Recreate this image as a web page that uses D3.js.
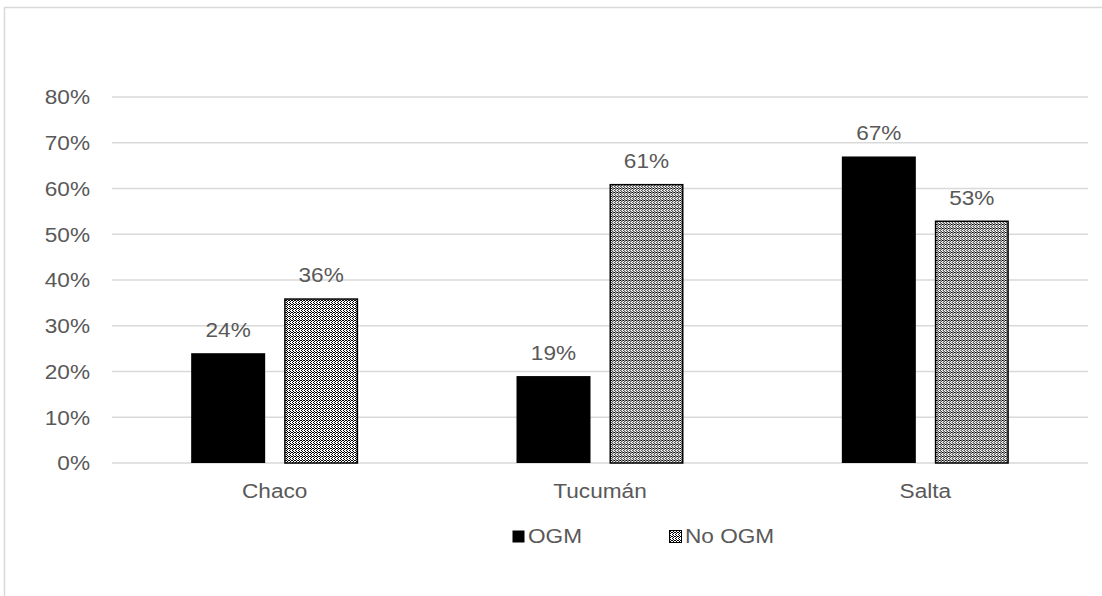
<!DOCTYPE html>
<html>
<head>
<meta charset="utf-8">
<script src="https://cdn.jsdelivr.net/npm/d3@7"></script>
<style>
  html, body { margin: 0; padding: 0; background: #fff; }
  svg { display: block; font-family: "Liberation Sans", Arial, sans-serif; }
</style>
</head>
<body>
<svg id="chart" width="1102" height="596"></svg>
<script>
// Regions and shares per seed type
const categories = ["Chaco", "Tucumán", "Salta"];
const seriesNames = ["OGM", "No OGM"];
const ogmValues = [24, 19, 67];
const noOgmValues = [36, 61, 53];
const tickValues = [0, 10, 20, 30, 40, 50, 60, 70, 80];

const svg = d3.select("#chart");
const W = 1102, H = 596;
const plot = { left: 112, right: 1088, top: 97, bottom: 463 };
const textColor = "#595959";
const gridColor = "#d9d9d9";
const fontSize = "19.5px";
const stretch = 1.16; // text is rendered slightly wide

// Outer chart frame (top and left edges visible)
svg.append("path")
  .attr("d", `M4.5,${H} L4.5,7.5 L${W},7.5`)
  .attr("fill", "none")
  .attr("stroke", gridColor)
  .attr("stroke-width", 1.5);

// Dotted fill for the "No OGM" series: columns of dots
const defs = svg.append("defs");
const pat = defs.append("pattern")
  .attr("id", "dots")
  .attr("patternUnits", "userSpaceOnUse")
  .attr("width", 3).attr("height", 4);
pat.append("rect").attr("width", 3).attr("height", 4).attr("fill", "#fff");
[[0,0],[0,2],[1,1],[1,3],[2,0]].forEach(([x, y]) => {
  pat.append("rect").attr("x", x).attr("y", y).attr("width", 1).attr("height", 1).attr("fill", "#000");
});

const y = d3.scaleLinear().domain([0, 80]).range([plot.bottom, plot.top]);
const x0 = d3.scaleBand().domain(categories).range([plot.left, plot.right]).padding(0);
const groupW = 167;
const x1 = d3.scaleBand().domain(seriesNames)
  .range([(x0.bandwidth() - groupW) / 2, (x0.bandwidth() + groupW) / 2])
  .paddingInner(0.2043).paddingOuter(0);

// Gridlines
svg.append("g").selectAll("line")
  .data(tickValues)
  .join("line")
  .attr("x1", plot.left).attr("x2", plot.right)
  .attr("y1", d => y(d)).attr("y2", d => y(d))
  .attr("stroke", gridColor)
  .attr("stroke-width", 1.3);

// Y axis labels
const yAxis = d3.axisLeft(y).tickValues(tickValues).tickFormat(d => d + "%").tickSize(0).tickPadding(0);
const gy = svg.append("g").attr("transform", `translate(90,0)`).call(yAxis);
gy.select(".domain").remove();
gy.selectAll("text")
  .attr("x", 0)
  .attr("fill", textColor)
  .style("font-size", fontSize)
  .style("font-family", "Liberation Sans, Arial, sans-serif")
  .attr("dy", "0.35em")
  .attr("transform", `scale(${stretch},1)`);

// X axis labels
const xAxis = d3.axisBottom(x0).tickSize(0).tickPadding(0);
const gx = svg.append("g").attr("transform", `translate(0,${plot.bottom})`).call(xAxis);
gx.select(".domain").remove();
gx.selectAll("text")
  .attr("fill", textColor)
  .attr("y", 35)
  .attr("dy", 0)
  .style("font-size", fontSize)
  .style("font-family", "Liberation Sans, Arial, sans-serif")
  .attr("transform", `scale(${stretch},1)`);

// Bars
const rows = categories.map((c, i) => ({ cat: c, vals: [
  { key: "OGM", v: ogmValues[i] },
  { key: "No OGM", v: noOgmValues[i] }
]}));

const groups = svg.append("g").selectAll("g")
  .data(rows)
  .join("g")
  .attr("transform", d => `translate(${x0(d.cat)},0)`);

groups.selectAll("rect")
  .data(d => d.vals)
  .join("rect")
  .attr("x", d => x1(d.key) + (d.key === "No OGM" ? 0.75 : 0))
  .attr("width", d => x1.bandwidth() - (d.key === "No OGM" ? 1.5 : 0))
  .attr("y", d => y(d.v) + (d.key === "No OGM" ? 0.75 : 0))
  .attr("height", d => plot.bottom - y(d.v) - (d.key === "No OGM" ? 0.75 : 0))
  .attr("fill", d => d.key === "OGM" ? "#000" : "url(#dots)")
  .attr("stroke", d => d.key === "OGM" ? "none" : "#000")
  .attr("stroke-width", 1.5);

// Value labels
groups.selectAll("text")
  .data(d => d.vals)
  .join("text")
  .attr("transform", d => `translate(${x1(d.key) + x1.bandwidth() / 2},${y(d.v) - 16}) scale(${stretch},1)`)
  .attr("text-anchor", "middle")
  .attr("fill", textColor)
  .style("font-size", fontSize)
  .text(d => d.v + "%");

// Legend
const legend = svg.append("g");
const legendItems = [
  { key: "OGM", x: 512, fill: "#000", stroke: "none" },
  { key: "No OGM", x: 669, fill: "url(#dots)", stroke: "#000" }
];
legendItems.forEach(it => {
  legend.append("rect")
    .attr("x", it.x + 0.5).attr("y", 530.5)
    .attr("width", 12).attr("height", 12)
    .attr("fill", it.fill)
    .attr("stroke", it.stroke)
    .attr("stroke-width", 1);
  legend.append("text")
    .attr("transform", `translate(${it.x + 16},543) scale(${stretch},1)`)
    .attr("fill", textColor)
    .style("font-size", fontSize)
    .text(it.key);
});
</script>
</body>
</html>
